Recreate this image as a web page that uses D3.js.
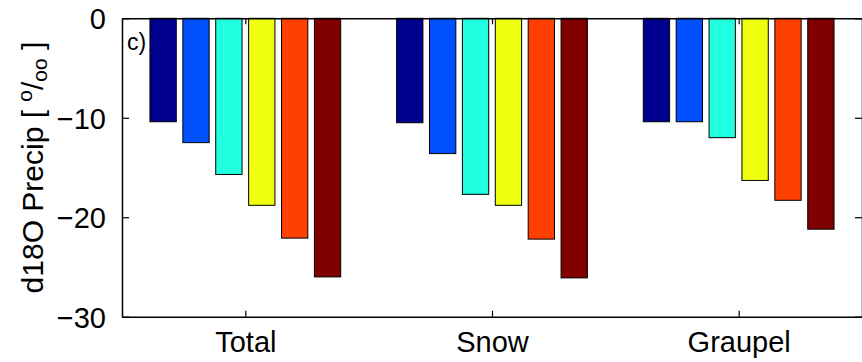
<!DOCTYPE html>
<html><head><meta charset="utf-8">
<script src="https://cdn.jsdelivr.net/npm/d3@7"></script>
<style>body{margin:0;background:#fff}svg{display:block}text{font-family:"Liberation Sans",Arial,sans-serif;fill:#000}</style>
</head><body><svg id="c" width="862" height="362"></svg>
<script>
const categories = ["Total", "Snow", "Graupel"];
const s1 = [-10.4, -10.5, -10.4];
const s2 = [-12.5, -13.6, -10.4];
const s3 = [-15.7, -17.7, -12.0];
const s4 = [-18.8, -18.8, -16.3];
const s5 = [-22.1, -22.2, -18.3];
const s6 = [-26.0, -26.1, -21.2];
const series = [s1, s2, s3, s4, s5, s6];
const colors = ["#00008f", "#0050ff", "#20ffdf", "#efff10", "#ff4000", "#800000"];
const yTicks = [0, -10, -20, -30];
const panelLabel = "c)";

const svg = d3.select("#c");
const L = 122, R = 862, T = 18.3, B = 316.7;
const x = d3.scaleLinear().domain([0.5, 3.5]).range([L, R]);
const y = d3.scaleLinear().domain([-30, 0]).range([B, T]);
const inner = d3.scaleBand().domain(d3.range(series.length)).range([-0.4, 0.4]).paddingInner(0.2).paddingOuter(0.1);

// bars
series.forEach((s, i) => {
  svg.append("g").selectAll("rect").data(s).join("rect")
    .attr("x", (d, j) => x(j + 1 + inner(i)))
    .attr("width", (d, j) => x(j + 1 + inner(i) + inner.bandwidth()) - x(j + 1 + inner(i)))
    .attr("y", y(0))
    .attr("height", d => y(d) - y(0))
    .attr("fill", colors[i])
    .attr("stroke", "#000").attr("stroke-width", 1);
});

// axes
const tl = 7;
const yl = svg.append("g").attr("transform", `translate(${L},0)`)
  .call(d3.axisLeft(y).tickValues(yTicks).tickSizeInner(-tl).tickSizeOuter(0).tickPadding(tl + 9).tickFormat(d => d === 0 ? "0" : "\u2212" + Math.abs(d)));
const yr = svg.append("g").attr("transform", `translate(${R},0)`)
  .call(d3.axisRight(y).tickValues(yTicks).tickSizeInner(-tl).tickSizeOuter(0).tickFormat(""));
const xb = svg.append("g").attr("transform", `translate(0,${B})`)
  .call(d3.axisBottom(x).tickValues([1, 2, 3]).tickSizeInner(-tl + 1).tickSizeOuter(0).tickPadding(tl + 8).tickFormat(d => categories[d - 1]));
const xt = svg.append("g").attr("transform", `translate(0,${T})`)
  .call(d3.axisTop(x).tickValues([1, 2, 3]).tickSizeInner(-tl + 1).tickSizeOuter(0).tickFormat(""));
[yl, yr, xb, xt].forEach(g => {
  g.selectAll(".domain").attr("stroke", "#000").attr("stroke-width", 1.5);
  g.selectAll(".tick line").attr("stroke", "#000").attr("stroke-width", 1.2);
  g.selectAll("text").attr("font-size", 29).attr("font-family", "Liberation Sans, Arial, sans-serif").attr("fill", "#000");
});
yl.selectAll(".tick text").attr("dy", "0.36em");
xb.selectAll(".tick text").attr("dy", "0.71em");

// panel label
svg.append("text").attr("x", 127).attr("y", 50).attr("font-size", 23).text(panelLabel);

// y label
const lab = svg.append("text")
  .attr("transform", `translate(43,${(T + B) / 2}) rotate(-90)`)
  .attr("text-anchor", "middle").attr("font-size", 30);
lab.append("tspan").text("d18O Precip [ ");
lab.append("tspan").attr("font-size", 21).attr("dy", -11).text("o");
lab.append("tspan").attr("dy", 11).text("/");
lab.append("tspan").attr("font-size", 21).attr("dy", 4).text("oo");
lab.append("tspan").attr("dy", -4).text(" ]");
</script></body></html>
